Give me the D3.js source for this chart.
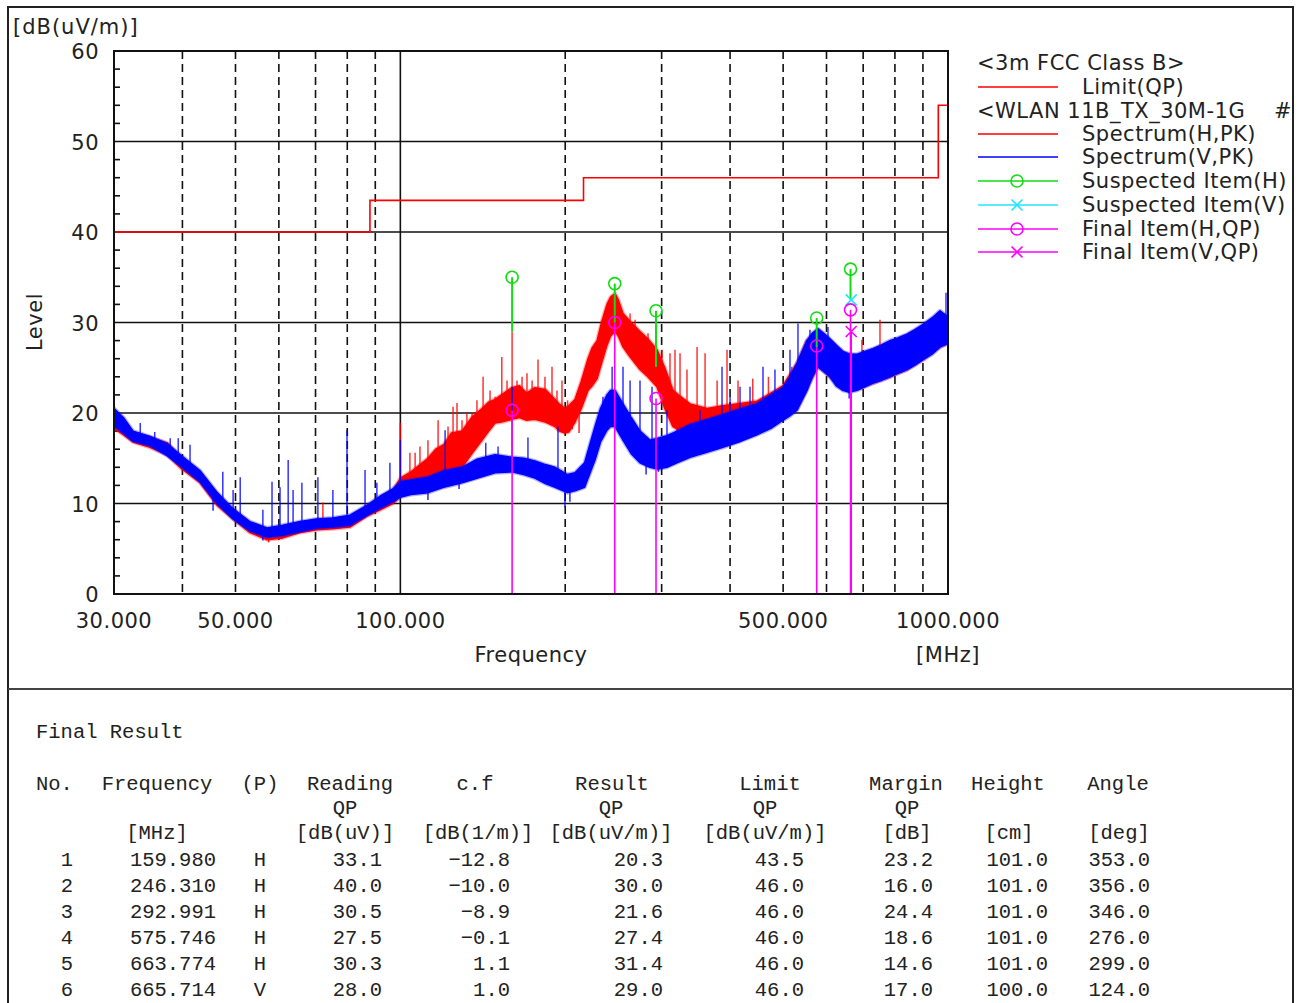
<!DOCTYPE html>
<html><head><meta charset="utf-8">
<script src="https://cdn.jsdelivr.net/npm/d3@7"></script>
<style>body{margin:0;background:#fff} svg{display:block}</style>
</head><body>
<svg id="c" width="1299" height="1003"></svg>
<script>
// ---------------- DATA ----------------
const yTickValues = [0, 10, 20, 30, 40, 50, 60];
const xTickValues = [30, 50, 100, 500, 1000];
const xTickLabels = ["30.000", "50.000", "100.000", "500.000", "1000.000"];
const xGridValues = [40, 50, 60, 70, 80, 90, 100, 200, 300, 400, 500, 600, 700, 800, 900];

const limitFreq  = [30, 88, 216, 960, 1000];
const limitLevel = [40, 43.5, 46, 54, 54];

// spectrum band: [MHz, low dB, high dB]
const specH = [
  [30,18.3,20.3],[31.2,17.6,19.2],[32.5,16.8,17.8],[34.9,16.2,17.3],[37.5,15.4,16.7],[39.6,14.0,15.2],
  [43.1,12.3,13.4],[46.3,9.8,11.0],[49.5,8.3,9.3],[53.1,6.8,7.8],[57.1,6.0,7.0],
  [61.0,6.2,7.3],[65.6,6.8,7.8],[70.4,7.1,8.2],[75.3,7.2,8.2],[80.9,7.4,8.5],
  [86.9,8.6,9.7],[91.8,9.3,10.6],[96.9,10.0,11.4],[100,10.8,12.8],[104.6,11.5,13.5],
  [112.3,12.3,15.0],[116,12.8,16.0],[120,13.2,16.5],[124,13.8,17.8],[129.6,14.0,18.0],
  [135,15.5,19.5],[141,17.0,20.5],[145,18.0,21.2],[148.9,18.9,21.5],[153,19.0,22.0],
  [159.9,19.3,22.8],[165,19.5,23.0],[170,19.2,22.2],[176.1,19.3,22.8],[184,19.0,22.6],
  [191.6,18.5,21.5],[195,18.0,21.0],[199.8,17.8,20.5],[203,17.9,20.8],[208.4,19.0,21.5],
  [214,20.5,23.5],[220.1,22.5,26.0],[224,23.0,27.2],[228.7,23.8,28.0],[233,25.5,30.0],
  [238.4,27.5,32.0],[242,28.5,32.8],[246.6,29.0,33.2],[250,28.5,32.5],[255,27.3,31.0],
  [262,26.3,30.2],[273.9,24.8,29.0],[283,24.0,28.2],[294.1,22.9,27.0],[304,20.5,25.0],
  [314.6,18.5,22.5],[325,18.0,21.8],[338,17.8,21.0],[363,17.9,20.5],
  [388.2,18.2,20.8],[448,18.5,21.3],[499.6,19.6,23.0],[530,20.5,25.5],[552.7,22.7,28.0],
  [578.9,25.2,29.2],[608.8,24.0,28.0],[643,22.6,26.7],[682.1,22.6,26.3],[729.5,23.3,27.0],
  [783.6,24.0,27.8],[841.8,24.8,28.6],[900.5,25.9,29.6],[967,27.3,31.0],[1000,27.7,30.5]
];
const specV = [
  [30,18.6,20.5],[31.2,17.8,19.5],[32.5,16.9,18.0],[34.9,16.4,17.4],[37.5,15.3,16.6],[39.6,14.2,15.4],
  [43.1,12.4,13.6],[46.3,10.0,11.2],[49.5,8.3,9.4],[53.1,7.0,8.0],[57.1,6.3,7.3],
  [61.0,6.5,7.6],[65.6,6.9,8.0],[70.4,7.3,8.3],[75.3,7.4,8.4],[80.9,7.6,8.7],
  [86.9,8.7,9.8],[91.8,9.5,10.8],[96.9,10.2,11.6],[100,10.7,12.4],[104.6,11.0,12.6],
  [112.3,11.2,12.9],[120,11.8,13.6],[129.6,12.3,14.0],[138,12.8,14.9],[148.9,13.4,15.4],
  [159.9,13.5,15.1],[168,13.2,15.0],[176.1,12.8,14.7],[184,12.2,14.3],
  [191.6,11.8,14.0],[202,11.2,13.2],[208.4,11.4,13.4],[217,11.8,14.5],[226.7,14.8,18.5],
  [232,16.8,20.5],[238.4,18.1,22.0],[242,18.5,22.5],[246.6,18.5,22.5],[255,17.0,21.0],
  [264,15.5,19.5],[273.9,14.5,18.0],[285.6,14.0,17.0],[295,13.8,17.2],
  [306.8,14.0,17.5],[320,14.5,18.0],[338,15.1,18.7],[360,15.6,19.2],[388.2,16.2,19.8],
  [415,16.8,20.4],[448,17.6,21.0],[475,18.3,22.0],[499.6,19.2,22.8],[515,19.7,24.0],
  [530,20.3,25.5],[552.7,22.5,28.0],[565,24.0,28.8],[578.9,25.1,29.3],[593,24.6,28.8],
  [608.8,24.0,28.2],[625,23.0,27.5],[643,22.5,26.8],[660,22.3,26.5],
  [682.1,22.5,26.5],[705,22.9,26.8],[729.5,23.3,27.1],[755,23.6,27.5],[783.6,24.0,28.0],
  [810,24.4,28.3],[841.8,24.8,28.7],[870,25.3,29.2],[900.5,25.9,29.8],[935,26.5,30.5],
  [967,27.3,31.3],[1000,27.7,30.6]
];
// narrow upward spikes: [MHz, peak dB]
const spikesH = [
  [72.2,10.1],[100,18.9],[104.1,15.6],[106.4,15.6],[108.6,16.3],[112.3,17.0],[117.2,19.2],
  [122.2,18.5],[124.8,20.7],[126.9,21.1],[129.6,19.2],[132.3,20.0],[135.2,20.0],[138.0,21.4],
  [141.6,24.0],[145.8,22.5],[148.9,21.8],[153.2,26.2],[156.6,23.6],[159.98,29.0],[163.3,23.6],
  [166.8,24.0],[170.3,24.4],[174.0,23.6],[178.4,25.9],[183.7,24.0],[189.2,25.1],[193.2,22.5],
  [197.3,23.6],[202,21.4],[210.2,22.2],[262.7,31.0],[268.3,30.3],[277.4,28.4],[283.3,28.8],
  [300.4,27.0],[310.7,26.6],[317.3,27.0],[324.1,26.6],[333.7,24.8],[348.2,27.3],[360.1,26.6],
  [378.8,23.6],[394.9,27.0],[413.6,23.6],[440,23.8],[470,24.0],[518.4,25.1],[696.4,28.1],
  [751.3,30.3]
];
const spikesV = [
  [33.5,18.9],[35.6,17.9],[38.0,17.2],[39.3,17.2],[41.3,16.5],[47.4,13.5],[49.5,11.5],
  [51.0,12.9],[56.1,9.3],[58.3,12.4],[60.3,11.8],[62.4,14.8],[63.7,11.5],[66.1,12.3],
  [70.7,12.9],[75.3,11.5],[79.9,18.1],[86.2,13.7],[90.6,12.3],[95.7,14.5],[100,17.0],
  [120.7,18.1],[143.2,16.7],[150.8,16.3],[159.98,22.9],[171,17.3],[194.0,18.5],[234.4,21.8],
  [243.6,25.1],[255,25.1],[262.7,23.6],[273.9,23.6],[288.1,22.9],[306.8,20.3],[352.5,20.3],
  [386.7,25.1],[400,21.8],[417.1,22.9],[435,22.9],[459.4,25.1],[483.1,24.8],[514.6,27.0],
  [532.2,29.9],[559.7,29.2],[603.8,29.5],[954.7,31.0],[991.6,33.3]
];
// narrow downward dips: [MHz, dip dB]
const dipsH = [[57.5,5.7],[212,17.8],[206,18.2],[320,17.6],[350,17.2]];
const dipsV = [[45.5,9.2],[56.1,5.9],[112.3,10.4],[128,11.6],[199.8,9.6],[204,10.2],[281,13.2],
               [296,13.5],[660,21.6]];

const suspHFreq  = [159.98, 246.31, 292.991, 575.746, 663.774];
const suspHLevel = [35.0, 34.3, 31.3, 30.5, 35.9];
const suspHStemEnd = [29.0, 30.0, 25.1, 27.3, 32.5];
const suspVFreq  = [665.714];
const suspVLevel = [32.5];

// Final result table
const resNo      = [1, 2, 3, 4, 5, 6];
const resFreq    = [159.980, 246.310, 292.991, 575.746, 663.774, 665.714];
const resPol     = ["H", "H", "H", "H", "H", "V"];
const resReading = [33.1, 40.0, 30.5, 27.5, 30.3, 28.0];
const resCf      = [-12.8, -10.0, -8.9, -0.1, 1.1, 1.0];
const resResult  = [20.3, 30.0, 21.6, 27.4, 31.4, 29.0];
const resLimit   = [43.5, 46.0, 46.0, 46.0, 46.0, 46.0];
const resMargin  = [23.2, 16.0, 24.4, 18.6, 14.6, 17.0];
const resHeight  = [101.0, 101.0, 101.0, 101.0, 101.0, 100.0];
const resAngle   = [353.0, 356.0, 346.0, 276.0, 299.0, 124.0];

const legendHeader1 = "<3m FCC Class B>";
const legendHeader2 = "<WLAN 11B_TX_30M-1G";
const legendItems = ["Limit(QP)", "Spectrum(H,PK)", "Spectrum(V,PK)", "Suspected Item(H)",
                     "Suspected Item(V)", "Final Item(H,QP)", "Final Item(V,QP)"];

// ---------------- DRAW ----------------
const RED = "#ff0000", BLUE = "#0000ff", GREEN = "#11dd11", CYAN = "#22e6ff", MAG = "#ff00ff";
const svg = d3.select("#c");
const x = d3.scaleLog().domain([30, 1000]).range([114, 948]);
const y = d3.scaleLinear().domain([0, 60]).range([594, 51]);
const SANS = "'DejaVu Sans', sans-serif";
const MONO = "'Liberation Mono', 'DejaVu Sans Mono', monospace";

// frame
svg.append("rect").attr("x", 8).attr("y", 7).attr("width", 1285).attr("height", 1010)
  .attr("fill", "none").attr("stroke", "#222").attr("stroke-width", 2);
svg.append("line").attr("x1", 8).attr("x2", 1293).attr("y1", 689).attr("y2", 689)
  .attr("stroke", "#444").attr("stroke-width", 2);

svg.append("clipPath").attr("id", "plotclip").append("rect")
  .attr("x", 114).attr("y", 51).attr("width", 834).attr("height", 543);

const grid = svg.append("g");
grid.selectAll(".hg").data(yTickValues.filter(v => v > 0 && v < 60)).join("line")
  .attr("x1", 114).attr("x2", 948).attr("y1", d => y(d)).attr("y2", d => y(d))
  .attr("stroke", "#111").attr("stroke-width", 1.6);
grid.selectAll(".vg").data(xGridValues).join("line")
  .attr("x1", d => x(d)).attr("x2", d => x(d)).attr("y1", 51).attr("y2", 594)
  .attr("stroke", "#111").attr("stroke-width", 1.6)
  .attr("stroke-dasharray", d => d === 100 ? null : "8,5");
const minor = d3.range(0, 60, 2).filter(v => v % 10 !== 0);
grid.selectAll(".mt").data(minor).join("line")
  .attr("x1", 114).attr("x2", 120).attr("y1", d => y(d)).attr("y2", d => y(d))
  .attr("stroke", "#111").attr("stroke-width", 1.6);

const plot = svg.append("g").attr("clip-path", "url(#plotclip)");

plot.append("path").datum(limitFreq.map((f, i) => [f, limitLevel[i]]))
  .attr("fill", "none").attr("stroke", RED).attr("stroke-width", 1.6)
  .attr("d", d3.line().x(d => x(d[0])).y(d => y(d[1])).curve(d3.curveStepAfter));

function bandAt(arr, f, k) {
  const i = d3.bisector(d => d[0]).left(arr, f);
  if (i <= 0) return arr[0][k];
  if (i >= arr.length) return arr[arr.length - 1][k];
  const a = arr[i - 1], b = arr[i];
  const t = (Math.log(f) - Math.log(a[0])) / (Math.log(b[0]) - Math.log(a[0]));
  return a[k] + t * (b[k] - a[k]);
}
const area = d3.area().x(d => x(d[0])).y0(d => y(d[1])).y1(d => y(d[2]));
function drawSpectrum(band, spikes, dips, color) {
  const g = plot.append("g");
  g.append("path").datum(band).attr("d", area)
    .attr("fill", "none").attr("stroke", color).attr("stroke-width", 4)
    .attr("stroke-opacity", 0.3).attr("stroke-linejoin", "round");
  g.append("path").datum(band).attr("d", area)
    .attr("fill", color).attr("stroke", color).attr("stroke-width", 1.5)
    .attr("stroke-linejoin", "round");
  g.selectAll(".sp").data(spikes).join("line")
    .attr("x1", d => x(d[0])).attr("x2", d => x(d[0]))
    .attr("y1", d => y(bandAt(band, d[0], 1))).attr("y2", d => y(d[1]))
    .attr("stroke", color).attr("stroke-width", 1.5).attr("stroke-opacity", 0.8);
  g.selectAll(".dp").data(dips).join("line")
    .attr("x1", d => x(d[0])).attr("x2", d => x(d[0]))
    .attr("y1", d => y(bandAt(band, d[0], 2))).attr("y2", d => y(d[1]))
    .attr("stroke", color).attr("stroke-width", 1.5).attr("stroke-opacity", 0.85);
}
drawSpectrum(specH, spikesH, dipsH, RED);
drawSpectrum(specV, spikesV, dipsV, BLUE);

plot.selectAll(".fl").data(resFreq.map((f, i) => [f, resResult[i]])).join("line")
  .attr("x1", d => x(d[0])).attr("x2", d => x(d[0]))
  .attr("y1", d => y(d[1])).attr("y2", y(0))
  .attr("stroke", MAG).attr("stroke-width", 1.6);
plot.selectAll(".sl").data(suspHFreq.map((f, i) => [f, suspHLevel[i], suspHStemEnd[i]])).join("line")
  .attr("x1", d => x(d[0])).attr("x2", d => x(d[0]))
  .attr("y1", d => y(d[1])).attr("y2", d => y(d[2]))
  .attr("stroke", GREEN).attr("stroke-width", 2);

function circle(g, cx, cy, color) {
  g.append("circle").attr("cx", cx).attr("cy", cy).attr("r", 6)
    .attr("fill", "none").attr("stroke", color).attr("stroke-width", 1.6);
}
function cross(g, cx, cy, color) {
  const s = 5.5;
  g.append("path").attr("d", `M${cx - s},${cy - s}L${cx + s},${cy + s}M${cx - s},${cy + s}L${cx + s},${cy - s}`)
    .attr("stroke", color).attr("stroke-width", 1.6).attr("fill", "none");
}
const mk = svg.append("g");
suspHFreq.forEach((f, i) => circle(mk, x(f), y(suspHLevel[i]), GREEN));
suspVFreq.forEach((f, i) => cross(mk, x(f), y(suspVLevel[i]), CYAN));
resFreq.forEach((f, i) => {
  if (resPol[i] === "H") circle(mk, x(f), y(resResult[i]), MAG);
  else cross(mk, x(f), y(resResult[i]), MAG);
});

svg.append("rect").attr("x", 114).attr("y", 51).attr("width", 834).attr("height", 543)
  .attr("fill", "none").attr("stroke", "#111").attr("stroke-width", 2);

// axis labels
const txt = svg.append("g").attr("font-family", SANS).attr("font-size", 21).attr("fill", "#222")
  .attr("letter-spacing", 0.5);
txt.selectAll(".yl").data(yTickValues).join("text")
  .attr("x", 99).attr("y", d => y(d) + 1).attr("text-anchor", "end")
  .attr("dominant-baseline", "central").text(d => d);
txt.selectAll(".xl").data(xTickValues).join("text")
  .attr("x", d => x(d)).attr("y", 621).attr("text-anchor", "middle")
  .attr("dominant-baseline", "central").text((d, i) => xTickLabels[i]);
txt.append("text").attr("x", 13).attr("y", 27).attr("dominant-baseline", "central")
  .attr("letter-spacing", 1).text("[dB(uV/m)]");
txt.append("text").attr("transform", "translate(35,322) rotate(-90)").attr("text-anchor", "middle")
  .attr("dominant-baseline", "central").text("Level");
txt.append("text").attr("x", 531).attr("y", 655).attr("text-anchor", "middle")
  .attr("dominant-baseline", "central").text("Frequency");
txt.append("text").attr("x", 948).attr("y", 655).attr("text-anchor", "middle")
  .attr("dominant-baseline", "central").text("[MHz]");

// legend
const lg = svg.append("g").attr("font-family", SANS).attr("font-size", 21).attr("fill", "#222")
  .attr("letter-spacing", 0.5);
lg.append("text").attr("x", 977).attr("y", 63).attr("dominant-baseline", "central").text(legendHeader1);
lg.append("text").attr("x", 977).attr("y", 111).attr("dominant-baseline", "central").text(legendHeader2);
lg.append("text").attr("x", 1274).attr("y", 111).attr("dominant-baseline", "central").text("#");
const legendY = [87, 134, 157, 181, 205, 229, 252];
const legendColor = [RED, RED, BLUE, GREEN, CYAN, MAG, MAG];
const legendMarker = [null, null, null, "o", "x", "o", "x"];
legendItems.forEach((t, i) => {
  const yy = legendY[i];
  lg.append("line").attr("x1", 978).attr("x2", 1058).attr("y1", yy).attr("y2", yy)
    .attr("stroke", legendColor[i]).attr("stroke-width", 1.6);
  if (legendMarker[i] === "o") circle(lg, 1017, yy, legendColor[i]);
  if (legendMarker[i] === "x") cross(lg, 1017, yy, legendColor[i]);
  lg.append("text").attr("x", 1082).attr("y", yy).attr("dominant-baseline", "central").text(t);
});

// table
const tb = svg.append("g").attr("font-family", MONO).attr("font-size", 20.5).attr("fill", "#222");
function mono(t, xx, yy, anchor) {
  tb.append("text").attr("x", xx).attr("y", yy)
    .attr("text-anchor", anchor).attr("dominant-baseline", "central").text(t);
}
mono("Final Result", 36, 732, "start");
const headerRows = [
  [["No.", 36, "start"], ["Frequency", 157, "middle"], ["(P)", 260, "middle"], ["Reading", 350, "middle"],
   ["c.f", 475, "middle"], ["Result", 612, "middle"], ["Limit", 770, "middle"], ["Margin", 906, "middle"],
   ["Height", 1008, "middle"], ["Angle", 1118, "middle"]],
  [["QP", 345, "middle"], ["QP", 611, "middle"], ["QP", 765, "middle"], ["QP", 907, "middle"]],
  [["[MHz]", 157, "middle"], ["[dB(uV)]", 345, "middle"], ["[dB(1/m)]", 478, "middle"],
   ["[dB(uV/m)]", 611, "middle"], ["[dB(uV/m)]", 765, "middle"], ["[dB]", 907, "middle"],
   ["[cm]", 1009, "middle"], ["[deg]", 1119, "middle"]]
];
const headerY = [784, 808, 833];
headerRows.forEach((row, r) => row.forEach(c => mono(c[0], c[1], headerY[r], c[2])));
const rowY0 = 860, rowDY = 26;
resNo.forEach((n, i) => {
  const yy = rowY0 + i * rowDY;
  mono(String(n), 73, yy, "end");
  mono(resFreq[i].toFixed(3), 216, yy, "end");
  mono(resPol[i], 260, yy, "middle");
  mono(resReading[i].toFixed(1), 382, yy, "end");
  mono(resCf[i].toFixed(1).replace("-", "\u2212"), 510, yy, "end");
  mono(resResult[i].toFixed(1), 663, yy, "end");
  mono(resLimit[i].toFixed(1), 804, yy, "end");
  mono(resMargin[i].toFixed(1), 933, yy, "end");
  mono(resHeight[i].toFixed(1), 1048, yy, "end");
  mono(resAngle[i].toFixed(1), 1150, yy, "end");
});
</script>
</body></html>
